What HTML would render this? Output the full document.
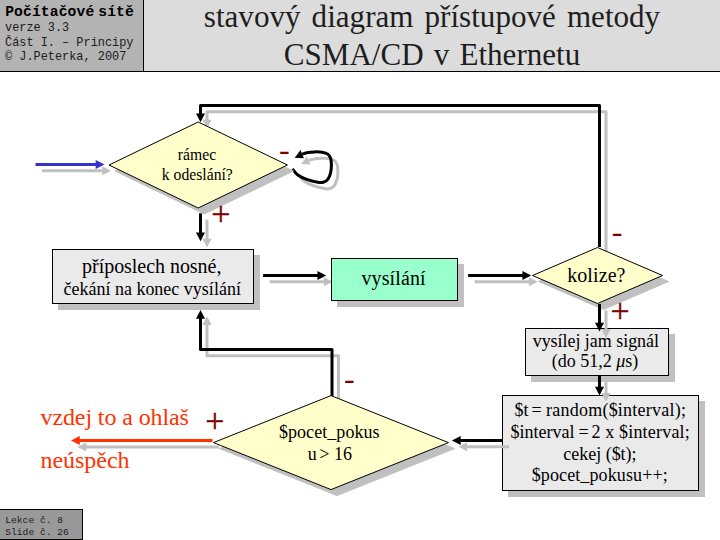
<!DOCTYPE html>
<html lang="cs">
<head>
<meta charset="utf-8">
<title>stavový diagram přístupové metody CSMA/CD v Ethernetu</title>
<style>
html,body{margin:0;padding:0;background:#fff;}
body{width:720px;height:540px;position:relative;overflow:hidden;font-family:"Liberation Serif",serif;color:#000;}
#hdr{position:absolute;left:0;top:0;width:720px;height:71px;background:#dcdcdc;border-bottom:1px solid #000;}
#hl{position:absolute;left:0;top:0;width:143px;height:71px;background:#b3b3b3;border-right:1px solid #000;font-family:"Liberation Mono",monospace;font-size:11.9px;line-height:15px;color:#202020;}
#hl div{position:absolute;left:5px;white-space:pre;}
#hl .b{font-family:"Liberation Mono",monospace;font-weight:bold;font-size:14.67px;letter-spacing:0.12px;word-spacing:-5px;top:5px;left:5.2px;color:#000;}
#ttl div{position:absolute;left:144px;width:576px;text-align:center;font-size:31.1px;line-height:36px;white-space:pre;color:#1e1e1e;}
#ftr{position:absolute;left:-1px;top:509px;width:82px;height:29px;background:#999;border:1px solid #000;font-family:"Liberation Mono",monospace;font-size:9.65px;line-height:12px;color:#202020;}
#ftr div{position:absolute;left:5.3px;white-space:pre;}
svg{position:absolute;left:0;top:0;}
</style>
</head>
<body>
<div id="hdr">
  <div id="hl">
    <div class="b">Počítačové sítě</div>
    <div style="top:21px">verze 3.3</div>
    <div style="top:35.6px">Část I. – Principy</div>
    <div style="top:50px">© J.Peterka, 2007</div>
  </div>
</div>
<div id="ttl"><div style="top:-0.7px;word-spacing:3.3px">stavový diagram přístupové metody</div><div style="top:36.5px;word-spacing:2.3px">CSMA/CD v Ethernetu</div></div>

<svg width="720" height="540" viewBox="0 0 720 540">
<g transform="translate(6.5,6.3)"><path d="M599.5 247 V105.5 H200.5 V114.4" fill="none" stroke="#c0c0c0" stroke-width="3" stroke-linejoin="round"/><path d="M200.5 122.2 l-4.5 -8.8 h9.0 z" fill="#c0c0c0"/></g><path d="M599.5 247 V105.5 H200.5 V114.4" fill="none" stroke="#000" stroke-width="3" stroke-linejoin="round"/><path d="M200.5 122.2 l-4.5 -8.8 h9.0 z" fill="#000"/>
<g transform="translate(6.5,6.3)"><path d="M200.5 213.3 V233.5" fill="none" stroke="#c0c0c0" stroke-width="3" stroke-linejoin="round"/><path d="M200.5 241.3 l-4.5 -8.8 h9.0 z" fill="#c0c0c0"/></g><path d="M200.5 213.3 V233.5" fill="none" stroke="#000" stroke-width="3" stroke-linejoin="round"/><path d="M200.5 241.3 l-4.5 -8.8 h9.0 z" fill="#000"/>
<g transform="translate(6.5,6.3)"><path d="M263.1 275.4 H318.45" fill="none" stroke="#c0c0c0" stroke-width="3" stroke-linejoin="round"/><path d="M326.25 275.4 l-8.8 -4.5 v9.0 z" fill="#c0c0c0"/></g><path d="M263.1 275.4 H318.45" fill="none" stroke="#000" stroke-width="3" stroke-linejoin="round"/><path d="M326.25 275.4 l-8.8 -4.5 v9.0 z" fill="#000"/>
<g transform="translate(6.5,6.3)"><path d="M468.1 275.4 H523.45" fill="none" stroke="#c0c0c0" stroke-width="3" stroke-linejoin="round"/><path d="M531.25 275.4 l-8.8 -4.5 v9.0 z" fill="#c0c0c0"/></g><path d="M468.1 275.4 H523.45" fill="none" stroke="#000" stroke-width="3" stroke-linejoin="round"/><path d="M531.25 275.4 l-8.8 -4.5 v9.0 z" fill="#000"/>
<g transform="translate(6.5,6.3)"><path d="M332 396 V349.5 H200.5 V317.8" fill="none" stroke="#c0c0c0" stroke-width="3" stroke-linejoin="round"/><path d="M200.5 310 l-4.5 8.8 h9.0 z" fill="#c0c0c0"/></g><path d="M332 396 V349.5 H200.5 V317.8" fill="none" stroke="#000" stroke-width="3" stroke-linejoin="round"/><path d="M200.5 310 l-4.5 8.8 h9.0 z" fill="#000"/>
<g transform="translate(6.5,6.3)"><path d="M292.40 168.90 C293.30 169.92 295.42 173.25 297.80 175.00 C300.18 176.75 303.37 178.18 306.70 179.40 C310.03 180.62 315.03 181.82 317.80 182.30 C320.57 182.78 321.63 182.78 323.30 182.30 C324.97 181.82 326.58 180.98 327.80 179.40 C329.02 177.82 330.00 175.20 330.60 172.80 C331.20 170.40 331.40 167.42 331.40 165.00 C331.40 162.58 331.20 160.12 330.60 158.30 C330.00 156.48 329.20 155.12 327.80 154.10 C326.40 153.08 324.43 152.57 322.20 152.20 C319.97 151.83 316.98 151.80 314.40 151.90 C311.82 152.00 308.73 152.42 306.70 152.80 C304.67 153.18 302.95 153.97 302.20 154.20" fill="none" stroke="#c0c0c0" stroke-width="3" stroke-linejoin="round"/><path d="M294.7 157.8 L300.5 150 L303.9 158.3 z" fill="#c0c0c0"/></g><path d="M292.40 168.90 C293.30 169.92 295.42 173.25 297.80 175.00 C300.18 176.75 303.37 178.18 306.70 179.40 C310.03 180.62 315.03 181.82 317.80 182.30 C320.57 182.78 321.63 182.78 323.30 182.30 C324.97 181.82 326.58 180.98 327.80 179.40 C329.02 177.82 330.00 175.20 330.60 172.80 C331.20 170.40 331.40 167.42 331.40 165.00 C331.40 162.58 331.20 160.12 330.60 158.30 C330.00 156.48 329.20 155.12 327.80 154.10 C326.40 153.08 324.43 152.57 322.20 152.20 C319.97 151.83 316.98 151.80 314.40 151.90 C311.82 152.00 308.73 152.42 306.70 152.80 C304.67 153.18 302.95 153.97 302.20 154.20" fill="none" stroke="#000" stroke-width="3" stroke-linejoin="round"/><path d="M294.7 157.8 L300.5 150 L303.9 158.3 z" fill="#000"/>
<g transform="translate(6.5,6.3)"><path d="M35.5 164.5 H96.7" fill="none" stroke="#c0c0c0" stroke-width="3" stroke-linejoin="round"/><path d="M104.5 164.5 l-8.8 -4.5 v9.0 z" fill="#c0c0c0"/></g><path d="M35.5 164.5 H96.7" fill="none" stroke="#3333cc" stroke-width="3" stroke-linejoin="round"/><path d="M104.5 164.5 l-8.8 -4.5 v9.0 z" fill="#3333cc"/>
<g transform="translate(6.5,6.3)"><path d="M212.5 440.6 H78.8" fill="none" stroke="#c0c0c0" stroke-width="3" stroke-linejoin="round"/><path d="M71 440.6 l8.8 -4.5 v9.0 z" fill="#c0c0c0"/></g><path d="M212.5 440.6 H78.8" fill="none" stroke="#ff3300" stroke-width="3" stroke-linejoin="round"/><path d="M71 440.6 l8.8 -4.5 v9.0 z" fill="#ff3300"/>
<polygon points="108.99999999999999,165 198.2,122 287.4,165 198.2,208" fill="#c0c0c0" stroke="#c0c0c0" stroke-width="1" transform="translate(6,6)"/><polygon points="108.99999999999999,165 198.2,122 287.4,165 198.2,208" fill="#ffffcc" stroke="#000" stroke-width="1"/>
<rect x="52.5" y="249.5" width="201" height="54" fill="#c0c0c0" stroke="#c0c0c0" stroke-width="1" transform="translate(6,6)"/><rect x="52.5" y="249.5" width="201" height="54" fill="#eaeaea" stroke="#000" stroke-width="1"/>
<rect x="331.5" y="258.5" width="126" height="42" fill="#c0c0c0" stroke="#c0c0c0" stroke-width="1" transform="translate(6,6)"/><rect x="331.5" y="258.5" width="126" height="42" fill="#99ffcc" stroke="#000" stroke-width="1"/>
<polygon points="532.5,275.5 597.5,247.5 662.5,275.5 597.5,303.5" fill="#c0c0c0" stroke="#c0c0c0" stroke-width="1" transform="translate(6,6)"/><polygon points="532.5,275.5 597.5,247.5 662.5,275.5 597.5,303.5" fill="#ffffcc" stroke="#000" stroke-width="1"/>
<polygon points="213.5,442.6 331,395.6 448.5,442.6 331,489.6" fill="#c0c0c0" stroke="#c0c0c0" stroke-width="1" transform="translate(6,6)"/><polygon points="213.5,442.6 331,395.6 448.5,442.6 331,489.6" fill="#ffffcc" stroke="#000" stroke-width="1"/>
<rect x="525.5" y="328.5" width="143" height="47" fill="#c0c0c0" stroke="#c0c0c0" stroke-width="1" transform="translate(6,6)"/><rect x="525.5" y="328.5" width="143" height="47" fill="#eaeaea" stroke="#000" stroke-width="1"/>
<rect x="502.5" y="395.5" width="196" height="95" fill="#c0c0c0" stroke="#c0c0c0" stroke-width="1" transform="translate(6,6)"/><rect x="502.5" y="395.5" width="196" height="95" fill="#eaeaea" stroke="#000" stroke-width="1"/>
<g transform="translate(6.5,6.3)"><path d="M599.5 304 V323.8" fill="none" stroke="#c0c0c0" stroke-width="3" stroke-linejoin="round"/><path d="M599.5 331.6 l-4.5 -8.8 h9.0 z" fill="#c0c0c0"/></g><path d="M599.5 304 V323.8" fill="none" stroke="#000" stroke-width="3" stroke-linejoin="round"/><path d="M599.5 331.6 l-4.5 -8.8 h9.0 z" fill="#000"/>
<g transform="translate(6.5,6.3)"><path d="M599.5 375.5 V387.7" fill="none" stroke="#c0c0c0" stroke-width="3" stroke-linejoin="round"/><path d="M599.5 395.5 l-4.5 -8.8 h9.0 z" fill="#c0c0c0"/></g><path d="M599.5 375.5 V387.7" fill="none" stroke="#000" stroke-width="3" stroke-linejoin="round"/><path d="M599.5 395.5 l-4.5 -8.8 h9.0 z" fill="#000"/>
<g transform="translate(6.5,6.3)"><path d="M502.5 440.4 H459.7" fill="none" stroke="#c0c0c0" stroke-width="3" stroke-linejoin="round"/><path d="M451.9 440.4 l8.8 -4.5 v9.0 z" fill="#c0c0c0"/></g><path d="M502.5 440.4 H459.7" fill="none" stroke="#000" stroke-width="3" stroke-linejoin="round"/><path d="M451.9 440.4 l8.8 -4.5 v9.0 z" fill="#000"/>
<g font-family="'Liberation Serif',serif" style="white-space:pre">
<text x="177.8" y="159.9" font-size="15.7" fill="#000">rámec</text>
<text x="161.8" y="179.7" font-size="15.7" fill="#000">k odeslání?</text>
<text x="82.1" y="273" font-size="20" fill="#000" textLength="139.3" lengthAdjust="spacing">příposlech nosné,</text>
<text x="63.4" y="295" font-size="18" fill="#000" textLength="177.5" lengthAdjust="spacing">čekání na konec vysílání</text>
<text x="361.4" y="285.4" font-size="20" fill="#000" textLength="64.2" lengthAdjust="spacing">vysílání</text>
<text x="567.2" y="281.8" font-size="20" fill="#000" textLength="58.3" lengthAdjust="spacing">kolize?</text>
<text x="532.7" y="346.9" font-size="18" fill="#000" textLength="126.3" lengthAdjust="spacing">vysílej jam signál</text>
<text x="551.7" y="367.2" font-size="18" fill="#000" textLength="86.6" lengthAdjust="spacing">(do 51,2 <tspan font-style="italic">μ</tspan>s)</text>
<text x="514.6" y="416.1" font-size="18" fill="#000">$t</text>
<text x="531.4" y="416.1" font-size="18" fill="#000">=</text>
<text x="546" y="416.1" font-size="18" fill="#000" textLength="140" lengthAdjust="spacing">random($interval);</text>
<text x="510.4" y="437.7" font-size="18" fill="#000" textLength="64" lengthAdjust="spacing">$interval</text>
<text x="578.4" y="437.7" font-size="18" fill="#000">=</text>
<text x="591.6" y="437.7" font-size="18" fill="#000">2</text>
<text x="605.3" y="437.7" font-size="18" fill="#000">x</text>
<text x="619" y="437.7" font-size="18" fill="#000" textLength="70.8" lengthAdjust="spacing">$interval;</text>
<text x="563.3" y="460" font-size="18" fill="#000" textLength="73.3" lengthAdjust="spacing">cekej ($t);</text>
<text x="531.7" y="481.2" font-size="18" fill="#000" textLength="136" lengthAdjust="spacing">$pocet_pokusu++;</text>
<text x="278.9" y="438.0" font-size="18" fill="#000" textLength="100.7" lengthAdjust="spacing">$pocet_pokus</text>
<text x="307.7" y="460.1" font-size="18" fill="#000">u</text>
<text x="319.3" y="460.1" font-size="18" fill="#000">&gt;</text>
<text x="334" y="460.1" font-size="18" fill="#000">16</text>
<text x="40.5" y="424.7" font-size="24" fill="#ff3300" textLength="148.4" lengthAdjust="spacing">vzdej to a ohlaš</text>
<text x="40.5" y="468.3" font-size="24" fill="#ff3300" textLength="89" lengthAdjust="spacing">neúspěch</text>
</g>
<g font-family="'Liberation Serif',serif" fill="#800000">
<text x="279.00" y="159.80" font-size="32">-</text>
<text x="211.35" y="224.80" font-size="34" stroke="#800000" stroke-width="0.35">+</text>
<text x="611.80" y="241.60" font-size="32">-</text>
<text x="610.45" y="322.10" font-size="34" stroke="#800000" stroke-width="0.35">+</text>
<text x="344.10" y="388.75" font-size="32">-</text>
<text x="205.35" y="431.90" font-size="34" stroke="#800000" stroke-width="0.35">+</text>
</g>
</svg>

<div id="ftr"><div style="top:4.8px">Lekce č. 8</div><div style="top:16.7px">Slide č. 26</div></div>
</body>
</html>
